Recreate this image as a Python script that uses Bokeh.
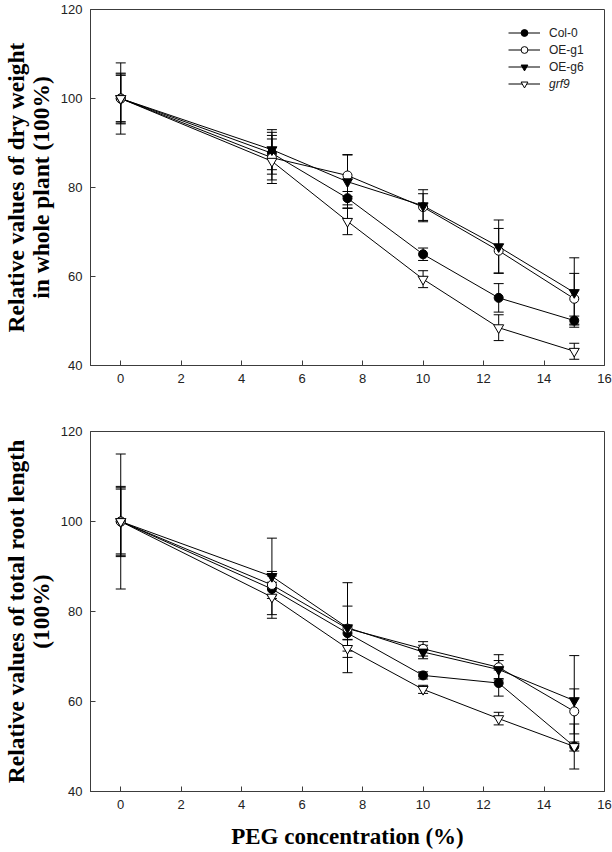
from bokeh.plotting import figure
from bokeh.models import (Range1d, FixedTicker, Whisker, TeeHead, ColumnDataSource,
                          Legend, LegendItem)
from bokeh.layouts import column
from bokeh.embed import file_html
from bokeh.resources import INLINE

# ---------------- data ----------------
peg = [0, 5, 7.5, 10, 12.5, 15]
series_names = ["Col-0", "OE-g1", "OE-g6", "grf9"]

# dry weight in whole plant (relative, %)
dw_col0 = [100, 87.7, 77.6, 65.0, 55.2, 50.1]
dw_col0_err = [5.2, 4.7, 1.5, 1.4, 3.2, 1.0]
dw_oeg1 = [100, 86.7, 82.7, 75.6, 65.8, 55.0]
dw_oeg1_err = [5.7, 5.0, 4.7, 3.0, 5.0, 5.7]
dw_oeg6 = [100, 88.5, 81.3, 75.9, 66.7, 56.4]
dw_oeg6_err = [8.0, 4.5, 6.0, 3.6, 6.0, 7.8]
dw_grf9 = [100, 85.9, 72.4, 59.4, 48.5, 43.2]
dw_grf9_err = [5.5, 5.0, 3.0, 1.9, 2.9, 1.8]

# total root length (relative, %)
rl_col0 = [100, 85.0, 75.2, 65.8, 64.1, 50.0]
rl_col0_err = [7.2, 1.5, 1.5, 0.8, 2.9, 5.0]
rl_oeg1 = [100, 85.9, 76.2, 71.7, 67.6, 57.8]
rl_oeg1_err = [7.5, 3.0, 5.0, 1.6, 2.8, 5.0]
rl_oeg6 = [100, 87.8, 76.4, 71.0, 67.1, 60.2]
rl_oeg6_err = [15.0, 8.5, 10.0, 1.5, 2.0, 10.0]
rl_grf9 = [100, 83.2, 71.8, 62.7, 56.2, 50.0]
rl_grf9_err = [7.8, 4.7, 2.0, 0.9, 1.4, 1.0]

x_ticks = [0, 2, 4, 6, 8, 10, 12, 14, 16]
y_ticks = [40, 60, 80, 100, 120]

# ---------------- styles ----------------
marker_styles = {
    "Col-0": dict(marker="circle", size=9, fill_color="black"),
    "OE-g1": dict(marker="circle", size=9, fill_color="white"),
    "OE-g6": dict(marker="inverted_triangle", size=10, fill_color="black"),
    "grf9": dict(marker="inverted_triangle", size=10, fill_color="white"),
}
FRAME = "#3c3c3c"
TXT = "#222222"


def make_fig(height, b_top, b_bottom, ylabel, xlabel=None):
    p = figure(width=612, height=height, x_range=Range1d(-1, 16), y_range=Range1d(40, 120),
               output_backend="svg", toolbar_location=None,
               min_border_left=90, min_border_right=8,
               min_border_top=b_top, min_border_bottom=b_bottom)
    p.xgrid.visible = False
    p.ygrid.visible = False
    p.outline_line_color = FRAME
    p.outline_line_width = 1
    p.outline_line_alpha = 1
    p.xaxis.ticker = FixedTicker(ticks=x_ticks)
    p.yaxis.ticker = FixedTicker(ticks=y_ticks)
    for ax in (p.xaxis[0], p.yaxis[0]):
        ax.major_tick_in = 5
        ax.major_tick_out = 0
        ax.minor_tick_line_color = None
        ax.axis_line_color = FRAME
        ax.major_tick_line_color = FRAME
        ax.major_label_text_font = "Liberation Sans"
        ax.major_label_text_font_size = "13px"
        ax.major_label_text_color = TXT
        ax.major_label_standoff = 8
    p.yaxis.axis_label = ylabel
    p.yaxis.axis_label_text_font = "Liberation Serif"
    p.yaxis.axis_label_text_font_style = "bold"
    p.yaxis.axis_label_text_font_size = "23.5px"
    p.yaxis.axis_label_text_color = "black"
    p.yaxis.axis_label_standoff = 4
    p.yaxis.axis_label_text_line_height = 0.95
    if xlabel:
        p.xaxis.axis_label = xlabel
        p.xaxis.axis_label_text_font = "Liberation Serif"
        p.xaxis.axis_label_text_font_style = "bold"
        p.xaxis.axis_label_text_font_size = "23px"
        p.xaxis.axis_label_text_color = "black"
        p.xaxis.axis_label_standoff = 12
    return p


def draw(p, data, legend=False):
    renderers = {}
    # lines
    for name, (vals, errs) in data.items():
        lr = p.line(peg, vals, line_color="black", line_width=1)
        renderers[name] = [lr]
    # error bars
    for name, (vals, errs) in data.items():
        src = ColumnDataSource(dict(x=peg,
                                    lower=[v - e for v, e in zip(vals, errs)],
                                    upper=[v + e for v, e in zip(vals, errs)]))
        w = Whisker(source=src, base="x", lower="lower", upper="upper",
                    line_color="black", line_width=1,
                    upper_head=TeeHead(size=10, line_color="black", line_width=1),
                    lower_head=TeeHead(size=10, line_color="black", line_width=1))
        p.add_layout(w)
    # markers
    for name, (vals, errs) in data.items():
        st = marker_styles[name]
        sr = p.scatter(peg, vals, marker=st["marker"], size=st["size"],
                       fill_color=st["fill_color"], line_color="black", line_width=1)
        renderers[name].append(sr)
    if legend:
        common = dict(glyph_width=32, glyph_height=17, label_height=17, spacing=0,
                      padding=0, margin=0, label_standoff=9,
                      border_line_color=None, background_fill_alpha=0,
                      label_text_font="Liberation Sans", label_text_font_size="12px",
                      label_text_color=TXT)
        leg1 = Legend(items=[LegendItem(label=n, renderers=renderers[n]) for n in series_names[:3]],
                      location=(418, 290), **common)
        leg2 = Legend(items=[LegendItem(label=series_names[3], renderers=renderers[series_names[3]])],
                      location=(418, 273), label_text_font_style="italic", **common)
        p.add_layout(leg1)
        p.add_layout(leg2)


p1 = make_fig(398, 9, 33, "Relative values of dry weight\nin whole plant (100%)")
draw(p1, {"Col-0": (dw_col0, dw_col0_err), "OE-g1": (dw_oeg1, dw_oeg1_err),
          "OE-g6": (dw_oeg6, dw_oeg6_err), "grf9": (dw_grf9, dw_grf9_err)}, legend=True)

p2 = make_fig(453, 33, 60, "Relative values of total root length\n(100%)",
              xlabel="PEG concentration (%)")
draw(p2, {"Col-0": (rl_col0, rl_col0_err), "OE-g1": (rl_oeg1, rl_oeg1_err),
          "OE-g6": (rl_oeg6, rl_oeg6_err), "grf9": (rl_grf9, rl_grf9_err)})

layout = column(p1, p2, spacing=0)
open("out.html", "w").write(file_html(layout, INLINE))
